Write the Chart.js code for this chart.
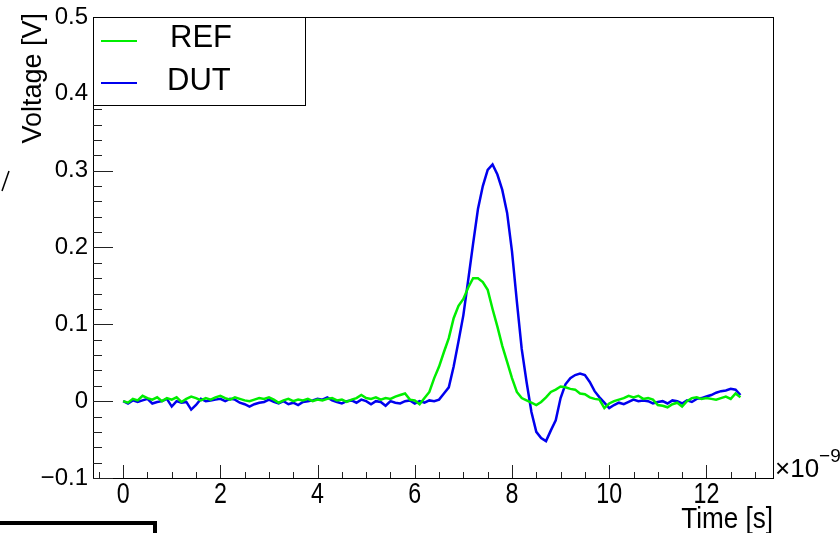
<!DOCTYPE html>
<html>
<head>
<meta charset="utf-8">
<script src="https://cdn.jsdelivr.net/npm/chart.js@4.4.1/dist/chart.umd.min.js"></script>
<style>
  html, body { margin: 0; padding: 0; background: #fff; }
  canvas { display: block; }
</style>
</head>
<body>
<canvas id="scope" width="840" height="533"></canvas>
<script>
// scope sampling grid, in ns
const tStart = 0;
const tStep = 0.1;

// REF trace, volts (one value per sample)
const refVolts = [
  0.000, -0.002, 0.003, 0.001, 0.007, 0.004, 0.002, 0.005, 0.000, 0.004,
  0.002, 0.005, -0.001, 0.003, 0.006, 0.004, 0.001, 0.004, 0.002, 0.005,
  0.007, 0.004, 0.002, 0.005, 0.003, 0.001, 0.000, 0.002, 0.004, 0.003,
  0.005, 0.002, -0.002, 0.001, 0.003, 0.000, 0.002, 0.001, 0.003, 0.000,
  0.002, 0.001, 0.003, 0.004, 0.001, 0.002, -0.001, 0.002, 0.004, 0.008,
  0.004, 0.003, 0.005, 0.002, 0.004, 0.003, 0.006, 0.008, 0.010, 0.002,
  0.001, -0.004, 0.004, 0.012, 0.030, 0.045, 0.064, 0.082, 0.108, 0.124,
  0.133, 0.148, 0.160, 0.160, 0.155, 0.145, 0.120, 0.097, 0.072, 0.051,
  0.030, 0.012, 0.004, 0.001, -0.002, -0.005, -0.001, 0.005, 0.012, 0.015,
  0.019, 0.018, 0.016, 0.015, 0.010, 0.009, 0.005, 0.003, 0.002, -0.009,
  -0.003, 0.000, 0.002, 0.004, 0.007, 0.005, 0.007, 0.003, 0.004, 0.002,
  -0.005, -0.006, -0.008, -0.004, -0.002, -0.007, 0.000, 0.004, 0.005, 0.003,
  0.004, 0.003, 0.002, 0.004, 0.006, 0.003, 0.010, 0.005
];

// DUT trace, volts
const dutVolts = [
  0.000, -0.003, 0.001, -0.001, 0.001, 0.003, -0.003, -0.001, 0.000, 0.003,
  -0.007, 0.000, -0.002, -0.001, -0.011, -0.005, 0.003, 0.000, 0.001, 0.002,
  0.003, 0.000, 0.003, 0.002, -0.002, -0.004, -0.007, -0.004, -0.002, -0.001,
  0.002, -0.001, -0.003, 0.000, -0.004, -0.002, -0.005, -0.001, 0.000, 0.001,
  0.003, 0.002, 0.005, 0.001, -0.001, -0.003, 0.000, 0.001, -0.002, 0.002,
  0.000, -0.004, 0.000, -0.001, -0.006, 0.000, -0.002, -0.003, 0.000, 0.001,
  -0.003, 0.000, -0.002, 0.001, 0.000, 0.002, 0.010, 0.018, 0.045, 0.078,
  0.112, 0.158, 0.205, 0.250, 0.280, 0.301, 0.308, 0.295, 0.275, 0.245,
  0.195, 0.130, 0.068, 0.025, -0.014, -0.040, -0.048, -0.052, -0.038, -0.025,
  0.004, 0.022, 0.030, 0.034, 0.036, 0.034, 0.025, 0.013, 0.005, -0.002,
  -0.009, -0.005, -0.002, -0.004, -0.001, 0.002, 0.000, 0.001, 0.000, -0.003,
  -0.001, 0.000, -0.003, 0.001, 0.000, -0.003, 0.001, -0.001, 0.003, 0.004,
  0.006, 0.008, 0.011, 0.013, 0.014, 0.016, 0.015, 0.008
];

const seriesNames = ['REF', 'DUT'];
const seriesColors = ['#00ee00', '#0000ee'];

const xTickValues = [0, 2, 4, 6, 8, 10, 12];
const xTickLabels = ['0', '2', '4', '6', '8', '10', '12'];
const yTickValues = [-0.1, 0, 0.1, 0.2, 0.3, 0.4, 0.5];
const yTickLabels = ['\u22120.1', '0', '0.1', '0.2', '0.3', '0.4', '0.5'];

const toPoints = vals => vals.map((v, i) => ({ x: +(tStart + i * tStep).toFixed(2), y: v }));

const FONT = '"Liberation Sans", Arial, sans-serif';

// ROOT-like frame: inward ticks, labels, legend box, exponent
const rootFrame = {
  id: 'rootFrame',
  beforeDatasetsDraw(chart) {
    const { ctx, chartArea: a, scales: { x, y } } = chart;
    ctx.save();
    ctx.strokeStyle = '#000';
    ctx.lineWidth = 1;
    ctx.strokeRect(a.left + 0.5, a.top + 0.5, a.right - a.left, a.bottom - a.top);

    ctx.strokeStyle = '#222';
    ctx.beginPath();
    for (let k = -5; k <= 25; k++) {
      const py = Math.round(y.getPixelForValue(k * 0.02)) + 0.5;
      ctx.moveTo(a.left, py);
      ctx.lineTo(a.left + (k % 5 === 0 ? 20 : 9), py);
    }
    for (let k = -1; k <= 26; k++) {
      const px = Math.round(x.getPixelForValue(k * 0.5)) + 0.5;
      ctx.moveTo(px, a.bottom);
      ctx.lineTo(px, a.bottom - (k % 4 === 0 ? 13 : 6));
    }
    ctx.stroke();

    ctx.fillStyle = '#000';
    ctx.font = '24px ' + FONT;
    ctx.textAlign = 'right';
    ctx.textBaseline = 'middle';
    yTickValues.forEach((v, i) => ctx.fillText(yTickLabels[i], a.left - 5, y.getPixelForValue(v)));

    // x labels are drawn a bit tall and narrow, like the ROOT output
    ctx.textAlign = 'center';
    ctx.textBaseline = 'alphabetic';
    ctx.font = '29px ' + FONT;
    xTickValues.forEach((v, i) => {
      ctx.save();
      ctx.translate(x.getPixelForValue(v), 503);
      ctx.scale(0.8, 1);
      ctx.fillText(xTickLabels[i], 0, 0);
      ctx.restore();
    });

    // axis titles
    ctx.textAlign = 'right';
    ctx.save();
    ctx.translate(a.right, 528);
    ctx.scale(0.9, 1);
    ctx.font = '29px ' + FONT;
    ctx.fillText('Time [s]', 0, 0);
    ctx.restore();
    ctx.save();
    ctx.translate(41, 13);
    ctx.rotate(-Math.PI / 2);
    ctx.font = '27px ' + FONT;
    ctx.fillText('Voltage [V]', 0, 0);
    ctx.restore();

    // exponent
    ctx.textAlign = 'left';
    ctx.font = '26px ' + FONT;
    ctx.fillText('\u00d710', a.right + 2, 477);
    const w = ctx.measureText('\u00d710').width;
    ctx.font = '19px ' + FONT;
    ctx.fillText('\u22129', a.right + 2 + w, 462);

    // stray marks from neighbouring pads
    ctx.strokeStyle = '#000';
    ctx.lineWidth = 1.5;
    ctx.beginPath();
    ctx.moveTo(9, 171);
    ctx.lineTo(2, 191);
    ctx.stroke();
    ctx.lineWidth = 4;
    ctx.beginPath();
    ctx.moveTo(0, 523);
    ctx.lineTo(155, 523);
    ctx.lineTo(155, 533);
    ctx.stroke();
    ctx.restore();
  },
  afterDraw(chart) {
    const { ctx, chartArea: a } = chart;
    ctx.save();
    ctx.fillStyle = '#fff';
    ctx.fillRect(a.left, a.top, 212, 88);
    ctx.strokeStyle = '#000';
    ctx.lineWidth = 1;
    ctx.strokeRect(a.left + 0.5, a.top + 0.5, 212, 88);
    const rows = [41, 83];
    const base = [47, 90];
    const textX = [170, 167];
    ctx.font = '31px ' + FONT;
    ctx.textAlign = 'left';
    ctx.textBaseline = 'alphabetic';
    seriesNames.forEach((name, i) => {
      ctx.strokeStyle = seriesColors[i];
      ctx.lineWidth = 2;
      ctx.beginPath();
      ctx.moveTo(101, rows[i]);
      ctx.lineTo(137, rows[i]);
      ctx.stroke();
      ctx.fillStyle = '#000';
      ctx.fillText(name, textX[i], base[i]);
    });
    ctx.restore();
  }
};

new Chart(document.getElementById('scope').getContext('2d'), {
  type: 'line',
  data: {
    datasets: [
      { label: seriesNames[0], data: toPoints(refVolts), borderColor: seriesColors[0], borderWidth: 2.5, pointRadius: 0, tension: 0 },
      { label: seriesNames[1], data: toPoints(dutVolts), borderColor: seriesColors[1], borderWidth: 2.5, pointRadius: 0, tension: 0 }
    ]
  },
  options: {
    responsive: false,
    animation: false,
    layout: { padding: { left: 0, top: 17, right: 67, bottom: 0 } },
    plugins: { legend: { display: false }, tooltip: { enabled: false } },
    scales: {
      x: {
        type: 'linear', min: -0.62, max: 13.37,
        grid: { display: false }, border: { display: false },
        ticks: { display: false },
        afterFit: s => { s.height = 55; }
      },
      y: {
        min: -0.1, max: 0.5,
        grid: { display: false }, border: { display: false },
        ticks: { display: false },
        afterFit: s => { s.width = 93; }
      }
    }
  },
  plugins: [rootFrame]
});
</script>
</body>
</html>
